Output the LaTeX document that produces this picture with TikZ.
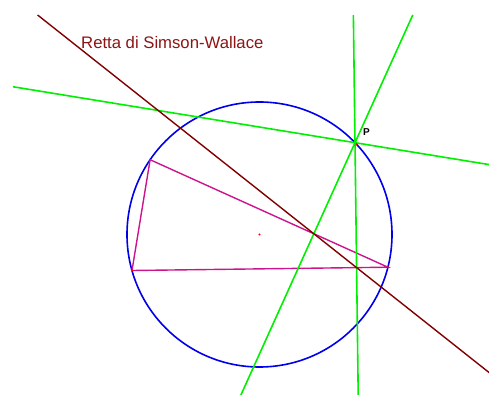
\documentclass[tikz,border=0pt]{standalone}
\usepackage{fontspec}
\setmainfont{Liberation Sans}
\usetikzlibrary{calc}
\definecolor{simsoncol}{RGB}{128,0,0}
\definecolor{labcol}{RGB}{140,20,20}
\definecolor{gline}{RGB}{0,240,0}
\definecolor{circcol}{RGB}{0,0,235}
\definecolor{tricol}{RGB}{204,20,140}
\begin{document}
\begin{tikzpicture}[x=1pt,y=1pt,
  greenline/.style={draw=gline,line width=1.6pt},
  circline/.style={draw=circcol,line width=1.6pt},
  triline/.style={draw=tricol,line width=1.4pt},
  simline/.style={draw=simsoncol,line width=1.4pt},
  dot/.style={fill=red}]
\useasboundingbox (0,0) rectangle (489,395);
\def\R{132.5}
\coordinate (O) at (259.5,160.5);
\coordinate (A) at ($(O)+(145.65:\R)$);
\coordinate (B) at ($(O)+(195.77:\R)$);
\coordinate (C) at ($(O)+(345.7:\R)$);
\coordinate (P) at ($(O)+(43.87:\R)$);
\coordinate (F1) at ($(A)!(P)!(B)$);
\coordinate (F2) at ($(B)!(P)!(C)$);
\coordinate (F3) at ($(A)!(P)!(C)$);
\coordinate (T1) at (0,380);
\coordinate (T2) at (489,380);
\coordinate (L1) at (13,0);
\coordinate (L2) at (13,395);
\coordinate (G1s) at (intersection of P--F1 and L1--L2);
\coordinate (G1e) at ($(F1)!2!(P)$);
\coordinate (G2s) at (intersection of P--F2 and T1--T2);
\coordinate (G2e) at ($(P)!3!(F2)$);
\coordinate (G3s) at (intersection of P--F3 and T1--T2);
\coordinate (G3e) at ($(P)!3!(F3)$);
\coordinate (Ss) at (intersection of F1--F2 and T1--T2);
\coordinate (Se) at ($(F1)!2!(F2)$);
\begin{scope}
\clip (0,0) rectangle (489,395);
\draw[circline] (O) circle[radius=\R];
\draw[triline] (A) -- (B) -- (C) -- cycle;
\draw[greenline] (G1s) -- (G1e);
\draw[greenline] (G2s) -- (G2e);
\draw[greenline] (G3s) -- (G3e);
\draw[simline] (Ss) -- (Se);
\end{scope}
\fill[dot] (O) circle[radius=1.2];
\fill[dot] (B) circle[radius=1.2];
\fill[dot] (C) circle[radius=1.2];
\fill[dot] ($(P)+(1.5,-1.5)$) circle[radius=1.1];
\node[anchor=base west,inner sep=0,text=labcol,font=\fontsize{16.7}{20}\selectfont] (lab) at (81,346.7) {Retta di Simson-Wallace};
\node[inner sep=0,font=\bfseries\fontsize{10}{12}\selectfont] (plab) at (366.5,262.7) {P};
\end{tikzpicture}
\end{document}
